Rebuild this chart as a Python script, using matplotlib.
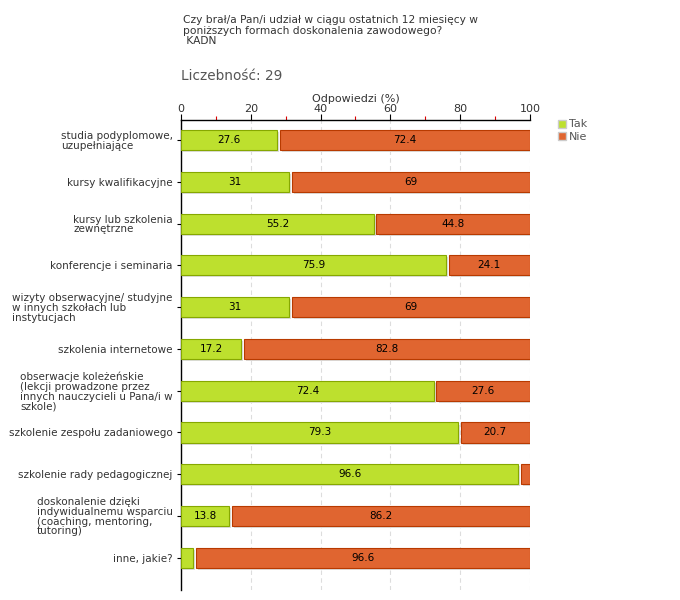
#!/usr/bin/env python3
import matplotlib
matplotlib.use("Agg")
import matplotlib.pyplot as plt
import matplotlib.patheffects as pe
from matplotlib.ticker import MultipleLocator
from matplotlib.lines import Line2D

categories = [
    "studia podyplomowe,\nuzupełniające",
    "kursy kwalifikacyjne",
    "kursy lub szkolenia\nzewnętrzne",
    "konferencje i seminaria",
    "wizyty obserwacyjne/ studyjne\nw innych szkołach lub\ninstytucjach",
    "szkolenia internetowe",
    "obserwacje koleżeńskie\n(lekcji prowadzone przez\ninnych nauczycieli u Pana/i w\nszkole)",
    "szkolenie zespołu zadaniowego",
    "szkolenie rady pedagogicznej",
    "doskonalenie dzięki\nindywidualnemu wsparciu\n(coaching, mentoring,\ntutoring)",
    "inne, jakie?",
]
tak = [27.6, 31, 55.2, 75.9, 31, 17.2, 72.4, 79.3, 96.6, 13.8, 3.4]
nie = [72.4, 69, 44.8, 24.1, 69, 82.8, 27.6, 20.7, 3.4, 86.2, 96.6]
series_names = ["Tak", "Nie"]

GREEN = "#bde02e"
GREEN_EDGE = "#86a800"
ORANGE = "#e06530"
ORANGE_EDGE = "#b83a00"
TEXT = "#333333"

fig = plt.figure(figsize=(6.8, 6.0), dpi=100)
ax = fig.add_axes([181 / 680, 10 / 600, 349 / 680, 470 / 600])

shadow = [pe.SimplePatchShadow(offset=(1.5, -1.5), shadow_rgbFace="#dddddd", alpha=1), pe.Normal()]
gap = 0.8
y = list(range(len(categories)))
h = 0.48

gb = ax.barh(y, tak, height=h, color=GREEN, edgecolor=GREEN_EDGE, linewidth=0.8, zorder=3)
ob = ax.barh(y, [n - gap for n in nie], left=[t + gap for t in tak], height=h,
             color=ORANGE, edgecolor=ORANGE_EDGE, linewidth=0.8, zorder=3)
for b in list(gb) + list(ob):
    b.set_path_effects(shadow)

for i, (t, n) in enumerate(zip(tak, nie)):
    if t >= 5:
        ax.text(t / 2, i, f"{t:g}", ha="center", va="center", fontsize=7.5, color="black", zorder=4)
    if n >= 5:
        ax.text(t + gap + (n - gap) / 2, i, f"{n:g}", ha="center", va="center", fontsize=7.5,
                color="black", zorder=4)

ax.set_xlim(0, 100)
ax.set_ylim(10.77, -0.48)
ax.xaxis.set_major_locator(MultipleLocator(20))
ax.xaxis.set_minor_locator(MultipleLocator(10))
ax.xaxis.tick_top()
ax.xaxis.set_label_position("top")
ax.set_xlabel("Odpowiedzi (%)", fontsize=8, color=TEXT, labelpad=2)
ax.tick_params(axis="x", which="major", length=4, width=0.8, color="black", labelsize=8,
               labelcolor=TEXT, pad=0)
ax.tick_params(axis="x", which="minor", length=3, width=0.8, color="#dd0000")
ax.set_yticks(y)
ax.set_yticklabels(categories, fontsize=7.5, color=TEXT, linespacing=0.95)
for lbl in ax.get_yticklabels():
    lbl.set_multialignment("left")
ax.tick_params(axis="y", length=3, width=0.8, color="black", pad=3)
ax.grid(axis="x", which="major", color="#dddddd", linestyle=(0, (4, 3)), linewidth=0.8, zorder=0)

for s in ["right", "bottom"]:
    ax.spines[s].set_visible(False)
ax.spines["left"].set_linewidth(1.0)
ax.spines["top"].set_linewidth(1.0)

handles = [Line2D([], [], marker="s", linestyle="", markersize=6, markerfacecolor=GREEN,
                  markeredgecolor="#cccccc"),
           Line2D([], [], marker="s", linestyle="", markersize=6, markerfacecolor=ORANGE,
                  markeredgecolor="#cccccc")]
fig.legend(handles, series_names, loc="upper left", bbox_to_anchor=(552 / 680, 1 - 115 / 600),
           frameon=False, fontsize=8, labelcolor="#555555", handletextpad=0.1,
           borderaxespad=0, labelspacing=0.2, handlelength=1.0)

fig.text(183 / 680, 1 - 15 / 600,
         "Czy brał/a Pan/i udział w ciągu ostatnich 12 miesięcy w\n"
         "poniższych formach doskonalenia zawodowego?\n KADN",
         ha="left", va="top", fontsize=7.7, color=TEXT, linespacing=1.08)
fig.text(181 / 680, 1 - 76 / 600, "Liczebność: 29", ha="left", va="center", fontsize=9.8,
         color="#555555")

fig.savefig("out.png", dpi=100)
